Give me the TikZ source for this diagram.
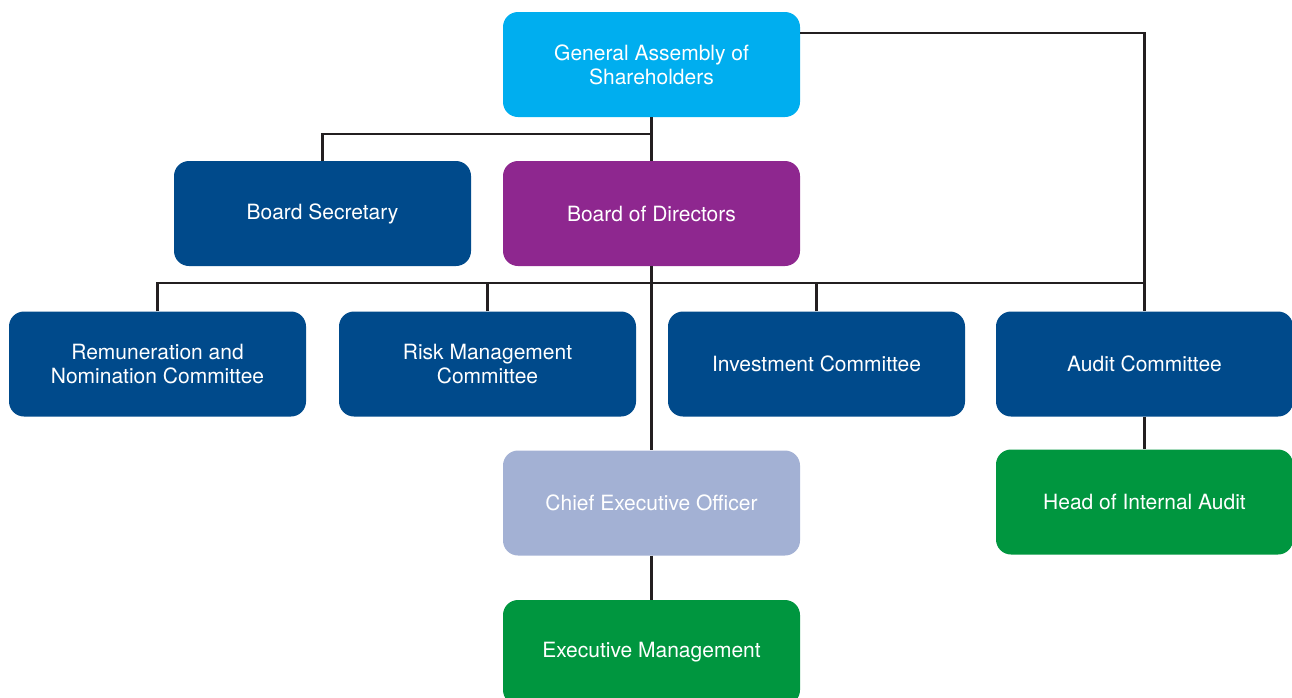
\documentclass[tikz,border=0pt]{standalone}
\usepackage{fontspec}
\setmainfont{TeX Gyre Heros}
\usepackage{tikz}

\definecolor{gacyan}{HTML}{00AEEF}
\definecolor{navy}{HTML}{004A8B}
\definecolor{bodpurple}{HTML}{8E278F}
\definecolor{ceogrey}{HTML}{A3B1D4}
\definecolor{mgmtgreen}{HTML}{00963F}
\definecolor{wire}{HTML}{231F20}

\begin{document}
\begin{tikzpicture}
  [x=1pt,y=-1pt,every node/.style={rounded corners=15pt,minimum width=297pt,minimum height=105pt,
   inner sep=0pt,text=white,align=center,font=\fontsize{21}{24}\selectfont}]
  \useasboundingbox (0,0) rectangle (1292,697);

  \node [fill=gacyan] (ga) at (651.5,64.5) {General Assembly of\\Shareholders};
  \node [fill=navy] (bs) at (322.5,213.5) {Board Secretary};
  \node [fill=bodpurple] (bod) at (651.5,213.5) {Board of Directors};
  \node [fill=navy] (rnc) at (157.5,364) {Remuneration and\\Nomination Committee};
  \node [fill=navy] (rmc) at (487.5,364) {Risk Management\\Committee};
  \node [fill=navy] (ic) at (816.5,364) {Investment Committee};
  \node [fill=navy] (ac) at (1144.5,364) {Audit Committee};
  \node [fill=ceogrey] (ceo) at (651.5,503) {Chief Executive Officer};
  \node [fill=mgmtgreen] (hia) at (1144.5,502) {Head of Internal Audit};
  \node [fill=mgmtgreen] (em) at (651.5,652.5) {Executive Management};

  \coordinate (gaout) at (800,33);
  \coordinate (split) at (651.5,134);
  \coordinate (bus) at (651.5,283);

  \begin{scope}[line width=2.5pt,wire]
    \draw (gaout) -| (ac.north);
    \draw (bs.north) |- (split);
    \draw (rnc.north) |- (bus) -| (ac.north);
    \foreach \from/\to in {ga/bod,bod/ceo,ceo/em,ac/hia}
      \draw (\from.south) -- (\to.north);
    \foreach \comm in {rmc,ic}
      \draw (\comm.north) |- (bus);
  \end{scope}

\end{tikzpicture}
\end{document}
